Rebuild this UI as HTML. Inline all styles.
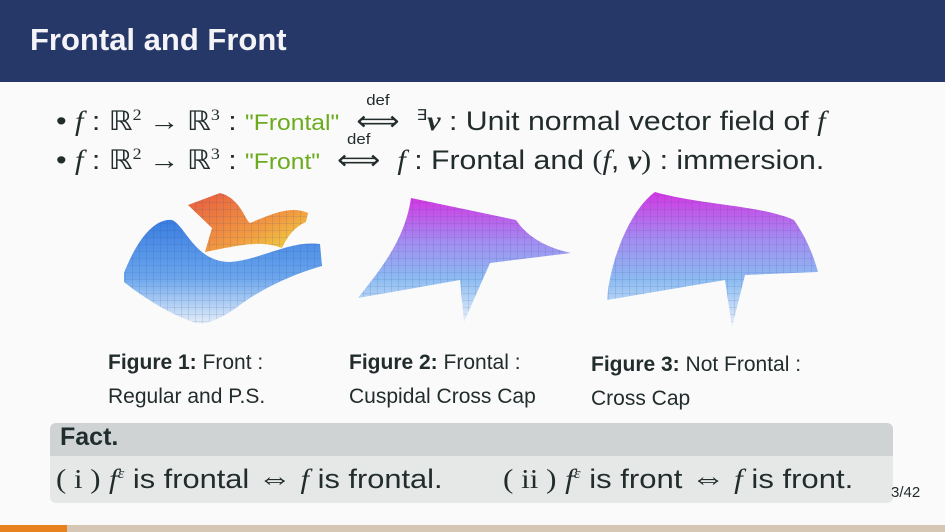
<!DOCTYPE html>
<html><head><meta charset="utf-8"><style>
body{margin:0;width:945px;height:532px;background:#fafafa;position:relative;overflow:hidden;font-family:"Liberation Sans",sans-serif;color:#222c2c}
.a{position:absolute;white-space:nowrap}
.m{font-family:"Liberation Serif",serif;font-style:italic}
.r{font-family:"Liberation Serif",serif}
.g{color:#6bab1d}
.def{display:inline-block;position:relative;width:54px;text-align:center}
.def small{position:absolute;left:0;right:0;top:-14px;font-size:15px}
.s{transform-origin:0 0}
</style></head><body>
<div class="a" style="left:0;top:0;width:945px;height:82px;background:#263868"></div>
<div class="a" style="left:30px;top:22px;font-size:31px;font-weight:bold;color:#f4f4f8">Frontal and Front</div>

<div class="a s" style="left:56px;top:106px;font-size:27px;transform:scaleX(1.12)">• <span class="m">f</span> : <span class="r">ℝ<sup style="font-size:16px">2</sup> → ℝ<sup style="font-size:16px">3</sup></span> : <span class="g" style="font-size:22px">"Frontal"</span> <span class="def"><small>def</small>⟺</span> <sup style="font-size:15px">∃</sup><b class="m">ν</b> : Unit normal vector field of <span class="m">f</span></div>
<div class="a s" style="left:56px;top:145px;font-size:27px;transform:scaleX(1.12)">• <span class="m">f</span> : <span class="r">ℝ<sup style="font-size:16px">2</sup> → ℝ<sup style="font-size:16px">3</sup></span> : <span class="g" style="font-size:22px">"Front"</span> <span class="def"><small>def</small>⟺</span> <span class="m">f</span> : Frontal and <span class="r">(</span><span class="m">f</span>, <b class="m">ν</b><span class="r">)</span> : immersion.</div>

<svg class="a" style="left:0;top:0" width="945" height="532">
<defs>
<linearGradient id="bl" x1="0" y1="0" x2="0" y2="1"><stop offset="0" stop-color="#3a7de0"/><stop offset="0.55" stop-color="#6aa5ec"/><stop offset="1" stop-color="#e4edf8"/></linearGradient>
<linearGradient id="or" x1="0" y1="0" x2="1" y2="1"><stop offset="0" stop-color="#e85a40"/><stop offset="0.6" stop-color="#f29a40"/><stop offset="1" stop-color="#f0e040"/></linearGradient>
<linearGradient id="pm" x1="0" y1="0" x2="0" y2="1"><stop offset="0" stop-color="#d020e0"/><stop offset="0.35" stop-color="#9a80f0"/><stop offset="0.65" stop-color="#80b4f0"/><stop offset="1" stop-color="#e4eefa"/></linearGradient>
<pattern id="grid" width="7" height="7" patternUnits="userSpaceOnUse"><path d="M7 0V7M0 7H7" stroke="#2a4a90" stroke-width="0.6" opacity="0.45"/></pattern>
</defs>
<g>
<path d="M124 273 C135 245 152 218 172 220 C185 225 195 262 230 262 C260 260 290 240 320 244 L322 266 C290 275 260 290 240 305 C220 320 205 325 196 323 C170 315 140 295 124 282 Z" fill="url(#bl)"/>
<path d="M124 273 C135 245 152 218 172 220 C185 225 195 262 230 262 C260 260 290 240 320 244 L322 266 C290 275 260 290 240 305 C220 320 205 325 196 323 C170 315 140 295 124 282 Z" fill="url(#grid)"/>
<path d="M188 205 L220 193 C240 198 245 220 250 223 C270 215 290 205 308 213 L306 222 C292 228 286 240 282 248 C260 240 240 245 205 252 L212 228 Z" fill="url(#or)"/>
<path d="M188 205 L220 193 C240 198 245 220 250 223 C270 215 290 205 308 213 L306 222 C292 228 286 240 282 248 C260 240 240 245 205 252 L212 228 Z" fill="url(#grid)"/>
<path d="M411 198 L516 220 C528 238 548 248 571 253 L490 263 L464 322 L460 280 L358 298 C380 270 405 240 411 198 Z" fill="url(#pm)" opacity="0.9"/>
<path d="M411 198 L516 220 C528 238 548 248 571 253 L490 263 L464 322 L460 280 L358 298 C380 270 405 240 411 198 Z" fill="url(#grid)"/>
<path d="M655 192 C700 205 760 205 794 220 C808 240 814 258 818 272 L745 275 L732 327 L725 280 L607 300 C610 260 630 210 655 192 Z" fill="url(#pm)" opacity="0.9"/>
<path d="M655 192 C700 205 760 205 794 220 C808 240 814 258 818 272 L745 275 L732 327 L725 280 L607 300 C610 260 630 210 655 192 Z" fill="url(#grid)"/>
</g>
</svg>

<div class="a" style="left:108px;top:346px;font-size:21px;line-height:34px"><b>Figure 1:</b> Front :<br>Regular and P.S.</div>
<div class="a" style="left:349px;top:346px;font-size:21px;line-height:34px"><b>Figure 2:</b> Frontal :<br>Cuspidal Cross Cap</div>
<div class="a" style="left:591px;top:348px;font-size:21px;line-height:34px"><b>Figure 3:</b> Not Frontal :<br>Cross Cap</div>

<div class="a" style="left:50px;top:423px;width:843px;height:80px;border-radius:6px;background:#e6e8e8;overflow:hidden">
<div style="height:33px;background:#cfd3d4"></div></div>
<div class="a" style="left:60px;top:423px;font-size:25px;font-weight:bold;color:#1f2d2d">Fact.</div>
<div class="a s" style="left:56px;top:462px;font-size:27px;transform:scaleX(1.14)"><span class="r">( i )</span> <span class="m">f</span><sup class="m" style="font-size:15px">ε</sup> is frontal <span class="r" style="font-size:30px">⇔</span> <span class="m">f</span> is frontal.</div>
<div class="a s" style="left:503px;top:462px;font-size:27px;transform:scaleX(1.15)"><span class="r">( ii )</span> <span class="m">f</span><sup class="m" style="font-size:15px">ε</sup> is front <span class="r" style="font-size:30px">⇔</span> <span class="m">f</span> is front.</div>
<div class="a" style="left:891px;top:484px;font-size:15px">3/42</div>

<div class="a" style="left:0;top:525px;width:67px;height:7px;background:#e8821e"></div>
<div class="a" style="left:67px;top:525px;width:878px;height:7px;background:#d6c6b4"></div>
</body></html>
